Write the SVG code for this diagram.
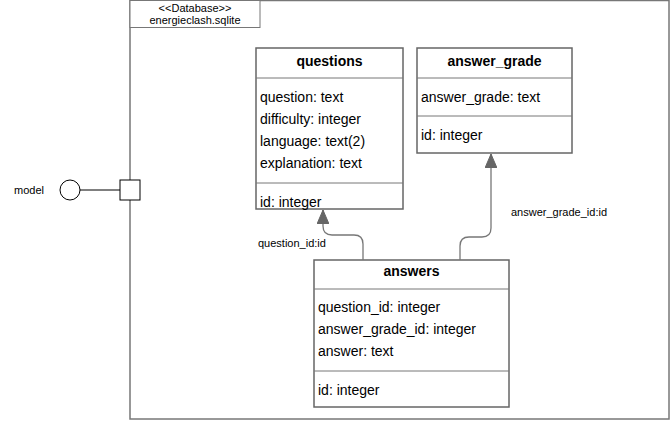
<svg xmlns="http://www.w3.org/2000/svg" width="671" height="421" viewBox="0 0 671 421">
<defs>
<style>
.box{fill:#fff;stroke:#666;stroke-width:1.5}
.sep{stroke:#777;stroke-width:1}
.t{font-family:"Liberation Sans",Arial,sans-serif;font-size:14px;fill:#000}
.h{font-family:"Liberation Sans",Arial,sans-serif;font-size:14px;font-weight:bold;fill:#000;text-anchor:middle}
.s{font-family:"Liberation Sans",Arial,sans-serif;font-size:11px;fill:#000}
.c{fill:none;stroke:#777;stroke-width:1.3}
</style>
<marker id="tri" viewBox="0 0 14 12" refX="14" refY="6" markerWidth="14" markerHeight="12" markerUnits="userSpaceOnUse" orient="auto">
<path d="M0,0 L14,6 L0,12 Z" fill="#666" stroke="#666"/>
</marker>
</defs>
<g id="database">
<rect x="130" y="0.5" width="539" height="418.5" fill="#fff" stroke="#777" stroke-width="1.5"/>
<rect x="130" y="0.5" width="130" height="27" fill="#fff" stroke="#777" stroke-width="1"/>
<text class="s" x="195" y="12" text-anchor="middle">&lt;&lt;Database&gt;&gt;</text>
<text class="s" x="195" y="24" text-anchor="middle">energieclash.sqlite</text>
</g>
<g id="port">
<rect x="120" y="180" width="20" height="20" fill="#fff" stroke="#000" stroke-width="1"/>
<line x1="80" y1="190" x2="120" y2="190" stroke="#000" stroke-width="1"/>
<circle cx="70" cy="190" r="10" fill="#fff" stroke="#000" stroke-width="1"/>
<text class="s" x="14" y="194">model</text>
</g>
<g id="questions">
<rect class="box" x="256" y="48" width="147" height="161"/>
<line class="sep" x1="256" y1="78" x2="403" y2="78"/>
<line class="sep" x1="256" y1="183" x2="403" y2="183"/>
<text class="h" x="329.5" y="66">questions</text>
<text class="t" x="260" y="102">question: text</text>
<text class="t" x="260" y="124">difficulty: integer</text>
<text class="t" x="260" y="146">language: text(2)</text>
<text class="t" x="260" y="168">explanation: text</text>
<text class="t" x="260" y="207">id: integer</text>
</g>
<g id="answer_grade">
<rect class="box" x="417" y="48" width="155" height="105"/>
<line class="sep" x1="417" y1="78" x2="572" y2="78"/>
<line class="sep" x1="417" y1="116" x2="572" y2="116"/>
<text class="h" x="494.5" y="66">answer_grade</text>
<text class="t" x="421" y="102">answer_grade: text</text>
<text class="t" x="421" y="140">id: integer</text>
</g>
<g id="answers">
<rect class="box" x="314" y="260" width="195" height="147"/>
<line class="sep" x1="314" y1="289" x2="509" y2="289"/>
<line class="sep" x1="314" y1="371" x2="509" y2="371"/>
<text class="h" x="411.5" y="276">answers</text>
<text class="t" x="318" y="312">question_id: integer</text>
<text class="t" x="318" y="334">answer_grade_id: integer</text>
<text class="t" x="318" y="356">answer: text</text>
<text class="t" x="318" y="395">id: integer</text>
</g>
<g id="connectors">
<path class="c" d="M363,260 L363,244 Q363,235 354,235 L332,235 Q323,235 323,226 L323,210" marker-end="url(#tri)"/>
<path class="c" d="M460,260 L460,246 Q460,237 469,237 L482,237 Q491,237 491,228 L491,154" marker-end="url(#tri)"/>
<text class="s" x="258" y="247">question_id:id</text>
<text class="s" x="511" y="216">answer_grade_id:id</text>
</g>
</svg>
